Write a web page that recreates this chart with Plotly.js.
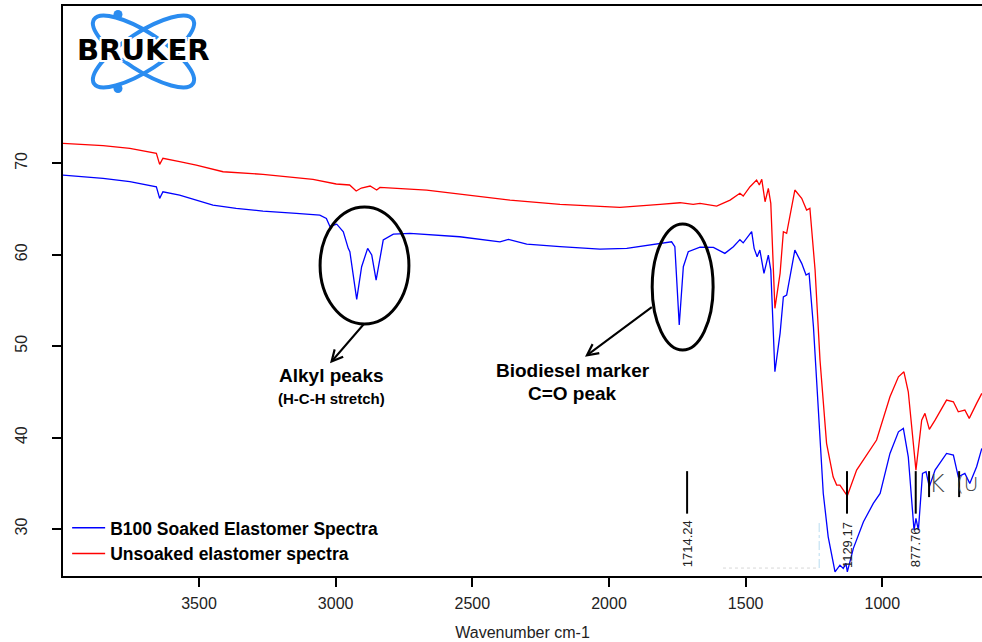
<!DOCTYPE html>
<html>
<head>
<meta charset="utf-8">
<script src="https://cdn.plot.ly/plotly-3.0.1.min.js"></script>
<style>html,body{margin:0;padding:0;background:#fff;}#chart{width:982px;height:642px;}</style>
</head>
<body>
<div id="chart"></div>
<script>
// ---- data ----
const unsoakedWn = [3998, 3851, 3753, 3656, 3644, 3632, 3571, 3510, 3412, 3266, 3083, 2998, 2949, 2925, 2906, 2874, 2850, 2838, 2667, 2362, 2179, 1960, 1813, 1740, 1692, 1667, 1606, 1557, 1521, 1509, 1484, 1460, 1450, 1441, 1429, 1417, 1408, 1393, 1374, 1362, 1350, 1320, 1295, 1277, 1265, 1246, 1228, 1204, 1180, 1167, 1155, 1128, 1094, 1057, 1021, 972, 941, 921, 905, 877, 856, 844, 828, 807, 765, 740, 722, 698, 682, 655, 636];
const unsoakedT = [72.19, 71.93, 71.64, 71.09, 69.89, 70.55, 70.18, 69.81, 69.08, 68.80, 68.25, 67.74, 67.63, 66.97, 67.30, 67.52, 67.08, 67.37, 67.08, 65.98, 65.51, 65.19, 65.51, 65.69, 65.51, 65.62, 65.33, 65.98, 66.72, 66.42, 67.44, 68.17, 67.63, 68.25, 65.80, 67.26, 65.62, 54.14, 57.97, 62.52, 62.34, 67.08, 66.17, 64.89, 65.08, 58.33, 48.48, 39.37, 35.71, 34.80, 34.80, 33.63, 36.44, 38.09, 39.73, 44.47, 46.65, 47.20, 45.01, 36.44, 41.91, 42.65, 40.90, 41.91, 44.10, 43.92, 42.82, 43.01, 42.10, 43.74, 44.84];

const soakedWn = [3998, 3851, 3753, 3656, 3644, 3632, 3571, 3449, 3364, 3266, 3144, 3058, 3034, 3021, 2996, 2972, 2954, 2948, 2923, 2905, 2883, 2868, 2852, 2838, 2826, 2789, 2728, 2546, 2399, 2368, 2338, 2301, 2179, 2033, 1935, 1813, 1771, 1759, 1743, 1728, 1710, 1667, 1618, 1576, 1545, 1521, 1509, 1478, 1469, 1458, 1448, 1433, 1417, 1408, 1393, 1374, 1362, 1350, 1320, 1295, 1279, 1268, 1252, 1234, 1216, 1198, 1173, 1155, 1143, 1133, 1128, 1106, 1069, 1033, 1008, 972, 941, 923, 905, 884, 877, 868, 853, 840, 828, 807, 765, 740, 722, 698, 680, 655, 636];
const soakedT = [68.72, 68.36, 67.99, 67.44, 66.17, 66.89, 66.53, 65.44, 65.08, 64.78, 64.53, 64.34, 63.98, 63.10, 63.35, 62.52, 60.70, 60.33, 55.12, 58.69, 60.70, 59.97, 57.23, 59.78, 61.61, 62.26, 62.34, 61.97, 61.42, 61.68, 61.42, 61.17, 60.88, 60.62, 60.70, 61.28, 61.42, 60.88, 52.31, 58.69, 60.33, 60.84, 60.80, 60.15, 60.88, 61.65, 61.30, 62.52, 60.70, 59.78, 60.51, 57.97, 59.97, 58.33, 47.20, 51.40, 55.40, 55.59, 60.51, 59.06, 57.78, 57.97, 52.12, 43.01, 33.89, 29.15, 25.32, 26.05, 25.69, 26.24, 25.32, 27.88, 30.79, 32.80, 33.89, 38.27, 40.63, 41.00, 37.90, 29.88, 31.16, 29.88, 36.08, 36.26, 34.62, 36.44, 38.27, 38.09, 35.71, 36.08, 34.99, 36.81, 38.82];

const seriesNames = ['B100 Soaked Elastomer Spectra', 'Unsoaked elastomer spectra'];
const xTickVals = [3500, 3000, 2500, 2000, 1500, 1000];
const xTickText = ['3500', '3000', '2500', '2000', '1500', '1000'];
const yTickVals = [30, 40, 50, 60, 70];
const yTickText = ['30', '40', '50', '60', '70'];
const peakWn = [1714.24, 1129.17, 877.76];
const peakLabels = ['1714.24', '1129.17', '877.76'];
const extraMarkWn = [829, 719];

// ---- traces ----
const traces = [
  {x: soakedWn, y: soakedT, name: seriesNames[0], type: 'scatter', mode: 'lines',
   line: {color: '#0000ff', width: 1.3}},
  {x: unsoakedWn, y: unsoakedT, name: seriesNames[1], type: 'scatter', mode: 'lines',
   line: {color: '#ff0000', width: 1.3}}
];

// ---- shapes ----
const shapes = [
  {type: 'circle', xref: 'x', yref: 'y', x0: 3057, x1: 2732, y0: 52.42, y1: 65.22, line: {color: '#000', width: 3}},
  {type: 'circle', xref: 'x', yref: 'y', x0: 1842, x1: 1619, y0: 49.57, y1: 63.36, line: {color: '#000', width: 3}},
  {type: 'line', xref: 'x', yref: 'y', x0: 1583, x1: 1235, y0: 25.73, y1: 25.73, line: {color: '#d8d8d8', width: 1, dash: 'dot'}},
  {type: 'line', xref: 'x', yref: 'y', x0: 1231, x1: 1231, y0: 25.73, y1: 30.87, line: {color: '#b8dcf0', width: 1, dash: 'dashdot'}}
];
peakWn.forEach(w => shapes.push({type: 'line', xref: 'x', yref: 'y', x0: w, x1: w, y0: 31.68, y1: 36.33, line: {color: '#000', width: 2}}));
extraMarkWn.forEach(w => shapes.push({type: 'line', xref: 'x', yref: 'y', x0: w, x1: w, y0: 33.49, y1: 36.33, line: {color: '#000', width: 2}}));

// ---- annotations ----
const annotations = [
  {xref: 'x', yref: 'y', x: 3020.7, y: 48.12, axref: 'x', ayref: 'y', ax: 2892.7, ay: 52.56, text: '', showarrow: true, arrowhead: 5, arrowsize: 1.1, arrowwidth: 2, arrowcolor: '#000', standoff: 0},
  {xref: 'x', yref: 'y', x: 2087.8, y: 48.84, axref: 'x', ayref: 'y', ax: 1837.9, ay: 54.39, text: '', showarrow: true, arrowhead: 5, arrowsize: 1.1, arrowwidth: 2, arrowcolor: '#000', standoff: 0},
  {xref: 'x', yref: 'y', x: 3014.5, y: 46.84, text: 'Alkyl peaks', showarrow: false, font: {size: 19, weight: 'bold', color: '#000'}},
  {xref: 'x', yref: 'y', x: 3014.5, y: 44.29, text: '(H-C-H stretch)', showarrow: false, font: {size: 15, weight: 'bold', color: '#000'}},
  {xref: 'x', yref: 'y', x: 2133.5, y: 47.37, text: 'Biodiesel marker', showarrow: false, font: {size: 19, weight: 'bold', color: '#000'}},
  {xref: 'x', yref: 'y', x: 2133.5, y: 44.79, text: 'C=O peak', showarrow: false, font: {size: 19, weight: 'bold', color: '#000'}},
  {xref: 'paper', yref: 'paper', x: 0.0871, y: 0.9228, xanchor: 'center', yanchor: 'middle', text: 'BRUKER', showarrow: false,
   font: {family: 'DejaVu Sans, sans-serif', size: 29, weight: 900, color: '#000',
          shadow: '2px 0 0 #fff, -2px 0 0 #fff, 0 2px 0 #fff, 0 -2px 0 #fff, 2px 2px 0 #fff, -2px -2px 0 #fff, 2px -2px 0 #fff, -2px 2px 0 #fff'}},
  {xref: 'x', yref: 'y', x: 800, y: 34.9, text: 'K', showarrow: false, font: {size: 24, color: '#444', family: 'DejaVu Sans, sans-serif', weight: 200}},
  {xref: 'x', yref: 'y', x: 641, y: 34.9, xanchor: 'right', text: '(U', showarrow: false, font: {size: 20, color: '#444', family: 'DejaVu Sans, sans-serif', weight: 200}}
];
const peakLabelY = [28.35, 28.24, 27.97];
peakWn.forEach((w, i) => annotations.push({xref: 'x', yref: 'y', x: w, y: peakLabelY[i], text: peakLabels[i], textangle: -90, showarrow: false,
  font: {size: 13, color: '#222'}}));

// ---- logo (orbit graphic) ----
const svg = "<svg xmlns='http://www.w3.org/2000/svg' width='117' height='87' viewBox='0 0 117 87'>" +
  "<g fill='none' stroke='#2a8cf0' stroke-width='4'>" +
  "<ellipse cx='58.5' cy='43.5' rx='59' ry='19' transform='rotate(33 58.5 43.5)'/>" +
  "<ellipse cx='58.5' cy='43.5' rx='59' ry='19' transform='rotate(-33 58.5 43.5)'/>" +
  "</g><circle cx='33' cy='6.5' r='4.5' fill='#2a8cf0'/><circle cx='33' cy='80.5' r='4.5' fill='#2a8cf0'/></svg>";

const layout = {
  width: 982, height: 642,
  margin: {l: 63, r: 0, t: 6, b: 66},
  paper_bgcolor: '#fff', plot_bgcolor: '#fff',
  font: {family: 'Liberation Sans, Arial, sans-serif', color: '#000'},
  showlegend: true,
  legend: {x: 0.0045, y: 0.116, xanchor: 'left', yanchor: 'top', bgcolor: 'rgba(0,0,0,0)',
           font: {size: 17.5, weight: 'bold', color: '#000'}, tracegroupgap: 0, itemwidth: 33},
  xaxis: {range: [3997.6, 635.3], autorange: false, tickvals: xTickVals, ticktext: xTickText,
          ticks: 'outside', ticklen: 9, tickwidth: 2, tickcolor: '#000', ticklabelstandoff: 3,
          showline: true, linewidth: 2, linecolor: '#000', mirror: true,
          showgrid: false, zeroline: false, tickfont: {size: 16, color: '#222'},
          title: {text: 'Wavenumber cm-1', font: {size: 16, color: '#222'}, standoff: 16}},
  yaxis: {range: [24.86, 87.21], autorange: false, tickvals: yTickVals, ticktext: yTickText,
          ticks: 'outside', ticklen: 9, tickwidth: 2, tickcolor: '#000', tickangle: -90,
          ticklabelstandoff: 19,
          showline: true, linewidth: 2, linecolor: '#000',
          showgrid: false, zeroline: false, tickfont: {size: 16, color: '#222'}},
  shapes: shapes,
  annotations: annotations,
  images: [{source: 'data:image/svg+xml;charset=utf-8,' + encodeURIComponent(svg),
            xref: 'paper', yref: 'paper', x: (85 - 63) / 919, y: 1 - (8 - 6) / 570,
            sizex: 117 / 919, sizey: 87 / 570, xanchor: 'left', yanchor: 'top', sizing: 'stretch', layer: 'above'}]
};

Plotly.newPlot('chart', traces, layout, {displayModeBar: false, staticPlot: true});
</script>
</body>
</html>
